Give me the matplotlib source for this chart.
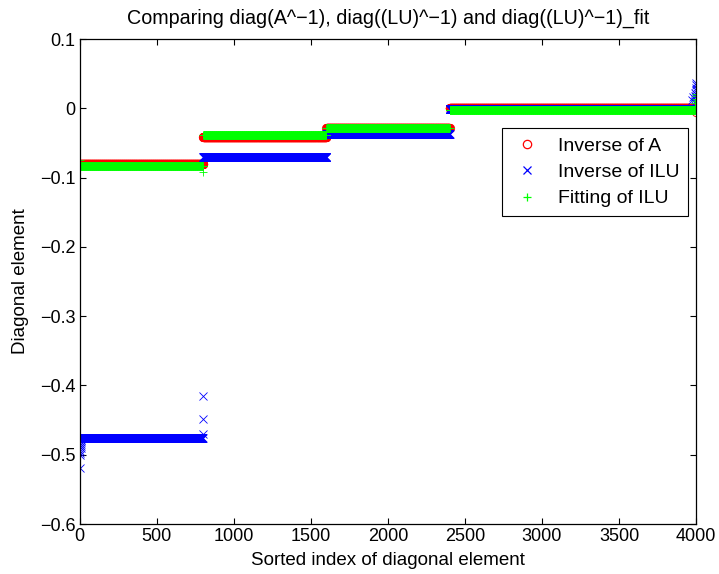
import matplotlib
matplotlib.use("Agg")
import matplotlib.pyplot as plt
import numpy as np

plt.rcParams["font.family"] = ["Liberation Sans", "DejaVu Sans"]

# block sizes of the sorted diagonal (four groups of unknowns)
block_sizes = [800, 800, 800, 1600]

# plateau level of each block, per series
inv_a_levels = [-0.080, -0.042, -0.029, 0.000]
inv_ilu_levels = [-0.476, -0.070, -0.037, -0.001]
fit_ilu_levels = [-0.083, -0.039, -0.029, -0.002]

# values that leave the plateau at the start/end of a block: (index, value)
inv_a_outliers = [(3999, -0.005)]
inv_ilu_outliers = [
    (0, -0.519), (1, -0.500), (2, -0.497), (3, -0.494), (4, -0.490),
    (5, -0.487), (6, -0.484), (7, -0.481), (8, -0.479),
    (797, -0.470), (798, -0.449), (799, -0.415),
    (3975, 0.012), (3980, 0.016), (3990, 0.009), (3992, 0.013),
    (3994, 0.018), (3995, 0.022), (3996, 0.026), (3997, 0.030),
    (3998, 0.034), (3999, 0.037),
]
fit_ilu_outliers = [
    (0, -0.074), (799, -0.092),
    (3994, 0.004), (3995, 0.007), (3996, 0.010), (3997, 0.014),
    (3998, 0.018), (3999, 0.021),
]


def build_series(levels, outliers):
    y = np.repeat(levels, block_sizes).astype(float)
    for i, v in outliers:
        y[i] = v
    return y


idx = np.arange(1, sum(block_sizes) + 1)
inv_a = build_series(inv_a_levels, inv_a_outliers)
inv_ilu = build_series(inv_ilu_levels, inv_ilu_outliers)
fit_ilu = build_series(fit_ilu_levels, fit_ilu_outliers)

fig = plt.figure(figsize=(7.19, 5.74), dpi=100)
ax = fig.add_axes([0.111, 0.087, 0.857, 0.845])

ax.plot(idx, inv_a, "o", color="#ff0000", mfc="none", ms=6, mew=0.6,
        label="Inverse of A")
ax.plot(idx, inv_ilu, "x", color="#0000ff", ms=6, mew=0.6,
        label="Inverse of ILU")
ax.plot(idx, fit_ilu, "+", color="#00ff00", ms=6, mew=0.6,
        label="Fitting of ILU")

ax.set_xlim(0, 4000)
ax.set_ylim(-0.6, 0.1)
ax.set_xticks(np.arange(0, 4001, 500))
ax.set_yticks(np.arange(-0.6, 0.101, 0.1))
ax.set_yticklabels(["\u22120.6", "\u22120.5", "\u22120.4", "\u22120.3",
                    "\u22120.2", "\u22120.1", "0", "0.1"])
ax.tick_params(direction="in", top=True, right=True, length=4,
               labelsize=13, pad=3)
for s in ax.spines.values():
    s.set_linewidth(0.9)

ax.set_title("Comparing diag(A^\u22121), diag((LU)^\u22121) and diag((LU)^\u22121)_fit",
             fontsize=14.2, pad=11)
ax.set_xlabel("Sorted index of diagonal element", fontsize=13.5, labelpad=5)
ax.set_ylabel("Diagonal element", fontsize=13.5, labelpad=8)

leg = ax.legend(loc="upper right", bbox_to_anchor=(0.987, 0.816),
                borderaxespad=0, fancybox=False, framealpha=1,
                edgecolor="black", fontsize=14, handlelength=1.6,
                handletextpad=0.8, borderpad=0.45, labelspacing=0.45)
leg.get_frame().set_linewidth(0.8)
for h in leg.legend_handles:
    h.set_markeredgewidth(0.9)

fig.savefig("out.png", dpi=100)
